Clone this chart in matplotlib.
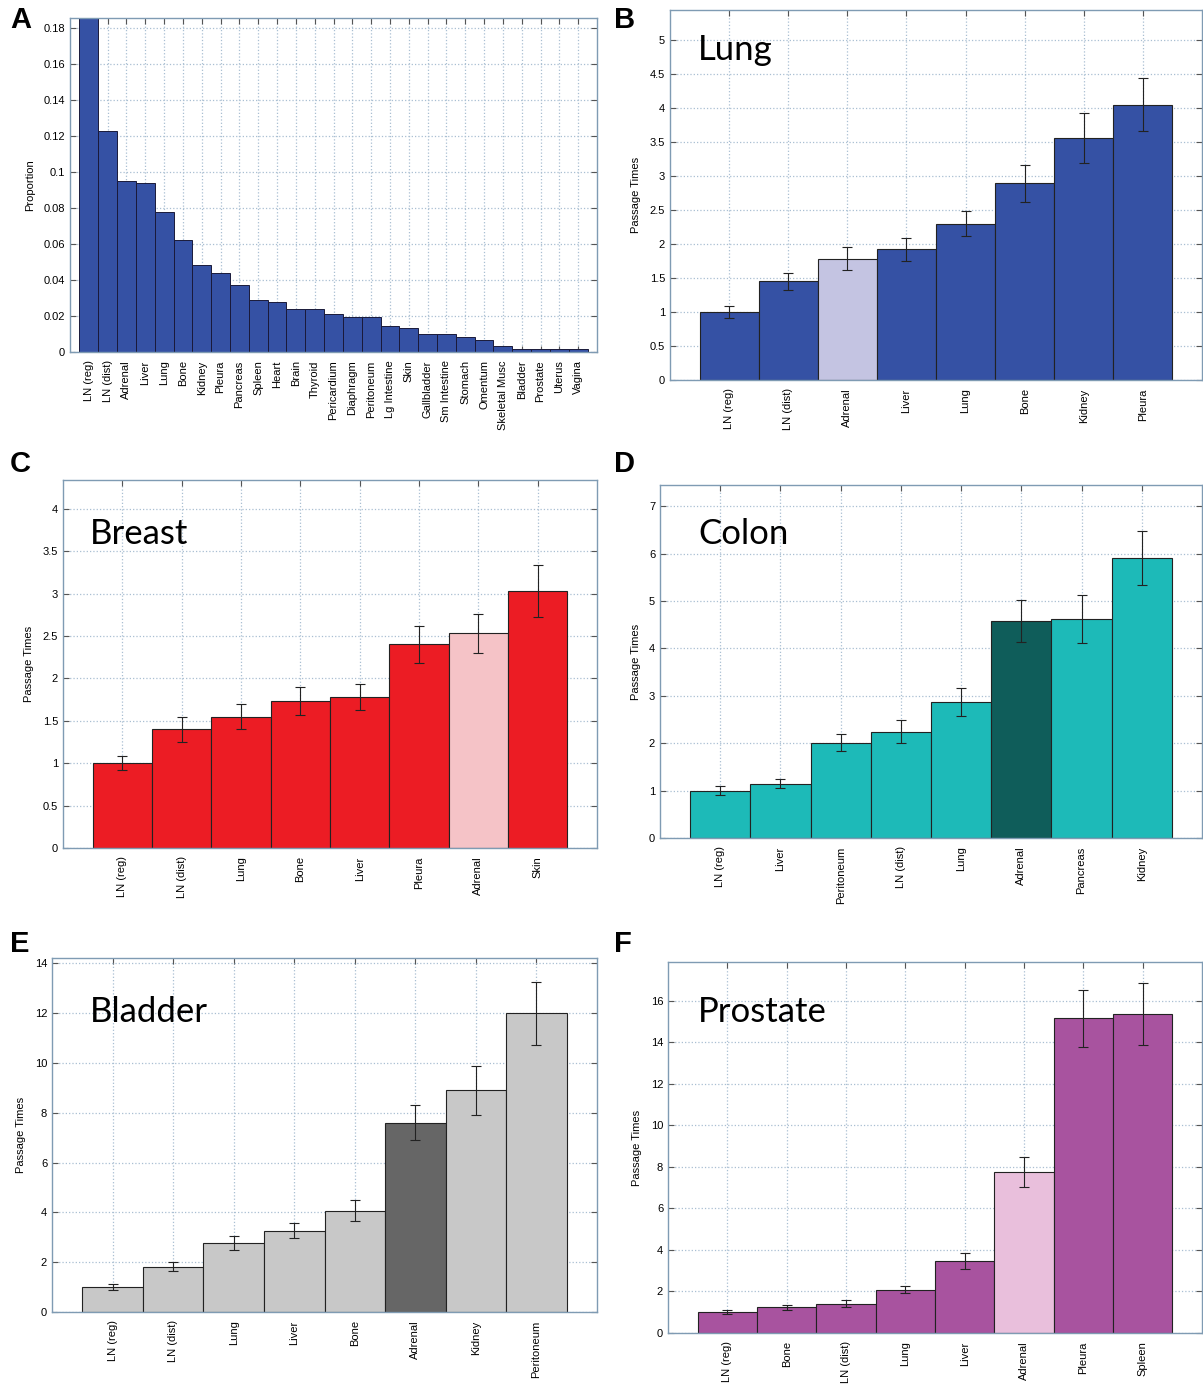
#!/usr/bin/env python3
"""
Six-panel bar chart: metastatic site proportions (A) and passage times by primary (B-F)
"""

import matplotlib
matplotlib.use("Agg")
import matplotlib.pyplot as plt
from matplotlib.ticker import FormatStrFormatter

# ---- panel A: proportion of metastases by site ----
sites_a = ['LN (reg)', 'LN (dist)', 'Adrenal', 'Liver', 'Lung', 'Bone', 'Kidney', 'Pleura',
           'Pancreas', 'Spleen', 'Heart', 'Brain', 'Thyroid', 'Pericardium', 'Diaphragm',
           'Peritoneum', 'Lg Intestine', 'Skin', 'Gallbladder', 'Sm Intestine', 'Stomach',
           'Omentum', 'Skeletal Musc', 'Bladder', 'Prostate', 'Uterus', 'Vagina']
prop_a = [0.195, 0.123, 0.095, 0.094, 0.078, 0.062, 0.0486, 0.044, 0.0374, 0.0291, 0.0276,
          0.0241, 0.0241, 0.0212, 0.0195, 0.0195, 0.0146, 0.0131, 0.0098, 0.0098, 0.0081,
          0.0064, 0.0035, 0.0018, 0.0018, 0.0018, 0.0018]

# ---- panel B: Lung ----
sites_b = ['LN (reg)', 'LN (dist)', 'Adrenal', 'Liver', 'Lung', 'Bone', 'Kidney', 'Pleura']
time_b = [1.0, 1.45, 1.78, 1.92, 2.30, 2.89, 3.56, 4.05]
err_b = [0.09, 0.125, 0.17, 0.17, 0.185, 0.27, 0.37, 0.385]

# ---- panel C: Breast ----
sites_c = ['LN (reg)', 'LN (dist)', 'Lung', 'Bone', 'Liver', 'Pleura', 'Adrenal', 'Skin']
time_c = [1.0, 1.40, 1.55, 1.73, 1.78, 2.40, 2.53, 3.03]
err_c = [0.085, 0.145, 0.147, 0.165, 0.15, 0.215, 0.225, 0.31]

# ---- panel D: Colon ----
sites_d = ['LN (reg)', 'Liver', 'Peritoneum', 'LN (dist)', 'Lung', 'Adrenal', 'Pancreas', 'Kidney']
time_d = [1.0, 1.15, 2.01, 2.24, 2.87, 4.58, 4.62, 5.91]
err_d = [0.09, 0.105, 0.18, 0.245, 0.305, 0.44, 0.5, 0.56]

# ---- panel E: Bladder ----
sites_e = ['LN (reg)', 'LN (dist)', 'Lung', 'Liver', 'Bone', 'Adrenal', 'Kidney', 'Peritoneum']
time_e = [1.0, 1.82, 2.77, 3.27, 4.07, 7.61, 8.91, 12.0]
err_e = [0.11, 0.17, 0.27, 0.3, 0.43, 0.7, 0.98, 1.26]

# ---- panel F: Prostate ----
sites_f = ['LN (reg)', 'Bone', 'LN (dist)', 'Lung', 'Liver', 'Adrenal', 'Pleura', 'Spleen']
time_f = [1.0, 1.23, 1.41, 2.08, 3.47, 7.76, 15.15, 15.38]
err_f = [0.09, 0.12, 0.17, 0.17, 0.37, 0.71, 1.39, 1.5]

HIGHLIGHT = 'Adrenal'
SPINE = '#7f9bb3'
GRID = '#a9bfd2'
TICK_FONT = 'Liberation Sans'

W, H = 1203, 1385


def fig_box(left, top, right, bottom):
    """pixel box -> figure fraction rect"""
    return [left / W, 1 - bottom / H, (right - left) / W, (bottom - top) / H]


def style_axes(ax, ylabel, yticks, ylim, xlim, n):
    ax.set_xlim(*xlim)
    ax.set_ylim(*ylim)
    ax.set_yticks(yticks)
    ax.yaxis.set_major_formatter(FormatStrFormatter('%g'))
    ax.set_xticks(range(1, n + 1))
    ax.grid(True, linestyle=':', color=GRID, linewidth=0.9)
    ax.set_axisbelow(True)
    ax.tick_params(direction='in', top=True, right=True, length=4, width=0.8,
                   color='#555555', labelsize=8)
    ax.tick_params(axis='x', pad=6)
    for s in ax.spines.values():
        s.set_color(SPINE)
        s.set_linewidth(1.0)
    ax.set_ylabel(ylabel, fontsize=8, family=TICK_FONT, labelpad=6)
    for lab in ax.get_yticklabels():
        lab.set_family(TICK_FONT)


def passage_panel(ax, sites, vals, errs, color, hl_color, title, ylim, yticks, title_xy):
    x = list(range(1, len(sites) + 1))
    colors = [hl_color if s == HIGHLIGHT else color for s in sites]
    ax.bar(x, vals, width=1.0, color=colors, edgecolor='#222222', linewidth=0.8, zorder=2)
    ax.errorbar(x, vals, yerr=errs, fmt='none', ecolor='#222222', elinewidth=0.8,
                capsize=3.5, capthick=0.8, zorder=3)
    style_axes(ax, 'Passage Times', yticks, ylim, (0, len(sites) + 1), len(sites))
    ax.set_xticklabels(sites, rotation=90, fontsize=8, family=TICK_FONT)
    ax.text(title_xy[0], title_xy[1], title, transform=ax.transAxes, fontsize=25,
            family='Lato', va='baseline', ha='left', color='black')


plt.rcParams['font.family'] = ['Liberation Sans', 'DejaVu Sans']
fig = plt.figure(figsize=(W / 100, H / 100), dpi=100)

# Panel A
axA = fig.add_axes(fig_box(70, 18, 597, 352))
xa = list(range(1, len(sites_a) + 1))
axA.bar(xa, prop_a, width=1.0, color='#3551a4', edgecolor='#1a1a3a', linewidth=0.7, zorder=2)
style_axes(axA, 'Proportion', [0, 0.02, 0.04, 0.06, 0.08, 0.1, 0.12, 0.14, 0.16, 0.18],
           (0, 0.1856), (0, len(sites_a) + 1), len(sites_a))
axA.set_xticklabels(sites_a, rotation=90, fontsize=8, family=TICK_FONT)

# Panel B - Lung
axB = fig.add_axes(fig_box(670, 10, 1202, 380))
passage_panel(axB, sites_b, time_b, err_b, '#3551a4', '#c4c4e2', 'Lung', (0, 5.44),
              [0, 0.5, 1, 1.5, 2, 2.5, 3, 3.5, 4, 4.5, 5], (0.053, 0.865))

# Panel C - Breast
axC = fig.add_axes(fig_box(63, 480, 597, 848))
passage_panel(axC, sites_c, time_c, err_c, '#ec1c24', '#f5c3c7', 'Breast', (0, 4.34),
              [0, 0.5, 1, 1.5, 2, 2.5, 3, 3.5, 4], (0.05, 0.826))

# Panel D - Colon
axD = fig.add_axes(fig_box(660, 485, 1202, 838))
passage_panel(axD, sites_d, time_d, err_d, '#1dbab8', '#0f5d5a', 'Colon', (0, 7.45),
              [0, 1, 2, 3, 4, 5, 6, 7], (0.07, 0.833))

# Panel E - Bladder
axE = fig.add_axes(fig_box(52, 958, 597, 1312))
passage_panel(axE, sites_e, time_e, err_e, '#c8c8c8', '#666666', 'Bladder', (0, 14.22),
              [0, 2, 4, 6, 8, 10, 12, 14], (0.07, 0.819))

# Panel F - Prostate
axF = fig.add_axes(fig_box(668, 962, 1202, 1333))
passage_panel(axF, sites_f, time_f, err_f, '#a8539f', '#e9bfdc', 'Prostate', (0, 17.87),
              [0, 2, 4, 6, 8, 10, 12, 14, 16], (0.056, 0.838))

# panel letters
letters = ['A', 'B', 'C', 'D', 'E', 'F']
letter_px = [(10, 6), (614, 6), (10, 450), (614, 450), (10, 930), (614, 930)]
for letter, (px, py) in zip(letters, letter_px):
    fig.text(px / W, 1 - py / H, letter, fontsize=21, fontweight='bold',
             family='Liberation Sans', va='top', ha='left')

plt.savefig('out.png', dpi=100, facecolor='white')
